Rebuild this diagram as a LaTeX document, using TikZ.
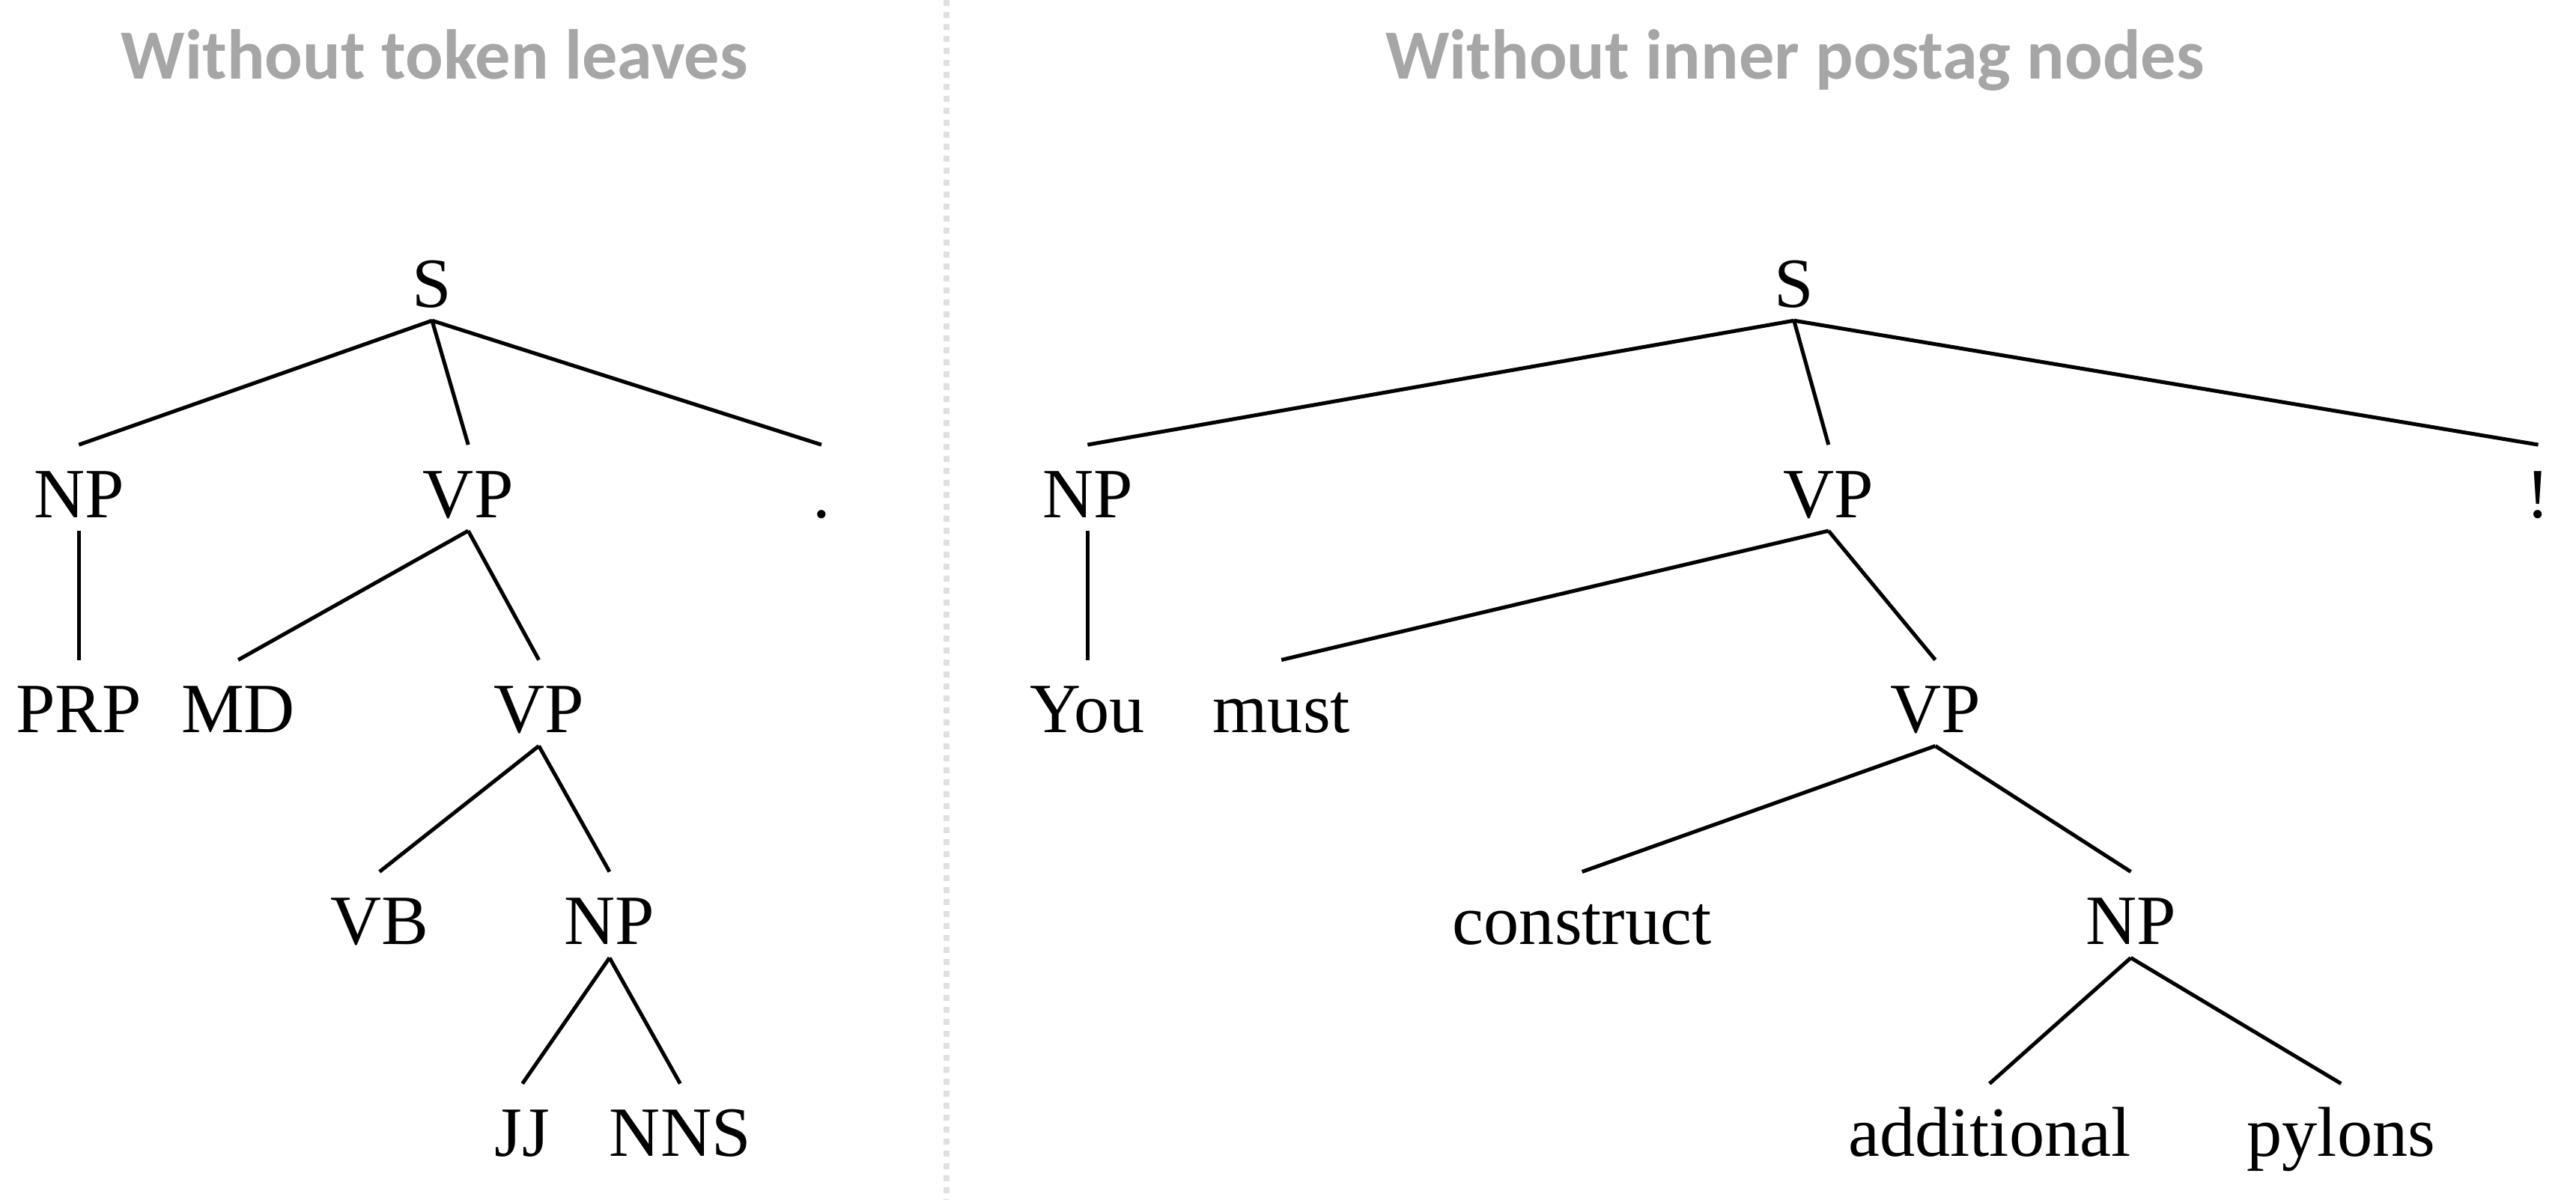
\documentclass[tikz,border=0pt]{standalone}
\usepackage{fontspec}
\setmainfont{Liberation Serif}
\newfontfamily\titlefont{Carlito}
\definecolor{titlegray}{HTML}{A6A6A6}
\definecolor{sepgray}{HTML}{E0E0E0}
\begin{document}
\begin{tikzpicture}[x=1pt,y=-1pt,
  lab/.style={font=\fontsize{43}{43}\selectfont, text height=36pt, text depth=0pt, inner xsep=0pt, inner ysep=8pt, anchor=base},
  ttl/.style={font=\titlefont\bfseries\fontsize{43}{43}\selectfont, text=titlegray, anchor=base, inner sep=0pt},
  edge/.style={line width=2.3pt, black},
  sep/.style={line width=3.6pt, sepgray, dash pattern=on 3.65pt off 3.65pt}
]
\useasboundingbox (0,0) rectangle (1568,730.66);
% separator
\coordinate (sepTop) at (576,0);
\coordinate (sepBot) at (576,730.66);
\draw[sep] (sepTop) -- (sepBot);
% titles
\node[ttl] (t1) at (264.5,48) {Without token leaves};
\node[ttl] (t2) at (1092.5,48) {Without inner postag nodes};
% left tree
\node[lab] (lS) at (263,187) {S};
\node[lab] (lNP) at (48,315) {NP};
\node[lab] (lVP) at (285,315) {VP};
\node[lab] (lDot) at (500,315) {.};
\node[lab] (lPRP) at (48,446) {PRP};
\node[lab] (lMD) at (145,446) {MD};
\node[lab] (lVP2) at (328,446) {VP};
\node[lab] (lVB) at (231,575) {VB};
\node[lab] (lNP2) at (371,575) {NP};
\node[lab] (lJJ) at (318,704) {JJ};
\node[lab] (lNNS) at (414,704) {NNS};
\draw[edge] (lS.south) -- (lNP.north);
\draw[edge] (lS.south) -- (lVP.north);
\draw[edge] (lS.south) -- (lDot.north);
\draw[edge] (lNP.south) -- (lPRP.north);
\draw[edge] (lVP.south) -- (lMD.north);
\draw[edge] (lVP.south) -- (lVP2.north);
\draw[edge] (lVP2.south) -- (lVB.north);
\draw[edge] (lVP2.south) -- (lNP2.north);
\draw[edge] (lNP2.south) -- (lJJ.north);
\draw[edge] (lNP2.south) -- (lNNS.north);
% right tree
\node[lab] (rS) at (1092,187) {S};
\node[lab] (rNP) at (662,315) {NP};
\node[lab] (rVP) at (1113,315) {VP};
\node[lab] (rExc) at (1545,315) {!};
\node[lab] (rYou) at (662,446) {You};
\node[lab] (rMust) at (780,446) {must};
\node[lab] (rVP2) at (1178,446) {VP};
\node[lab] (rCon) at (963,575) {construct};
\node[lab] (rNP2) at (1297,575) {NP};
\node[lab] (rAdd) at (1211,704) {additional};
\node[lab] (rPyl) at (1425,704) {pylons};
\draw[edge] (rS.south) -- (rNP.north);
\draw[edge] (rS.south) -- (rVP.north);
\draw[edge] (rS.south) -- (rExc.north);
\draw[edge] (rNP.south) -- (rYou.north);
\draw[edge] (rVP.south) -- (rMust.north);
\draw[edge] (rVP.south) -- (rVP2.north);
\draw[edge] (rVP2.south) -- (rCon.north);
\draw[edge] (rVP2.south) -- (rNP2.north);
\draw[edge] (rNP2.south) -- (rAdd.north);
\draw[edge] (rNP2.south) -- (rPyl.north);
\end{tikzpicture}
\end{document}
